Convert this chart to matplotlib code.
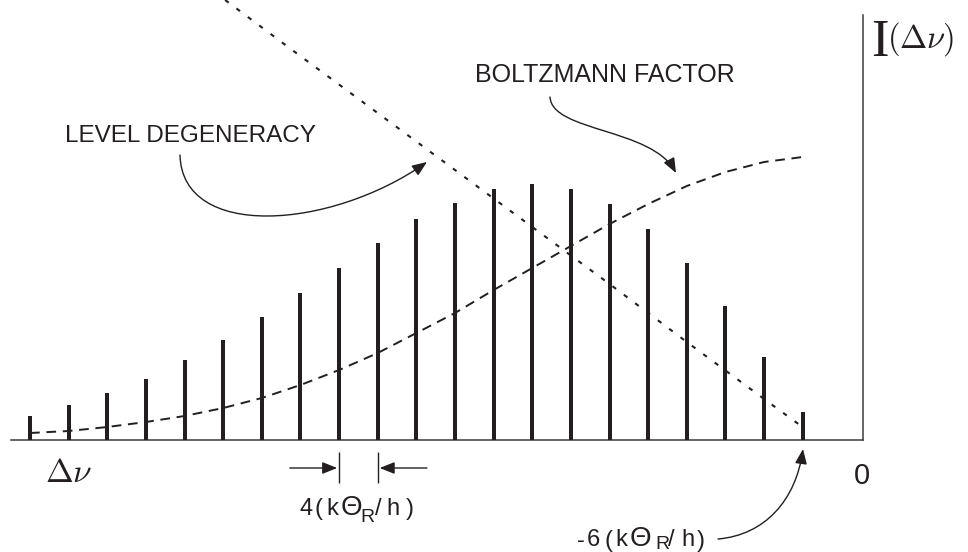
import matplotlib
matplotlib.use("Agg")
import matplotlib.pyplot as plt
from matplotlib.path import Path
from matplotlib.patches import FancyArrowPatch

plt.rcParams['lines.scale_dashes'] = False
plt.rcParams['mathtext.fontset'] = 'cm'

# ---- data (shift in units of k*Theta_R/h, intensities in arbitrary units) ----
shift = [-86, -82, -78, -74, -70, -66, -62, -58, -54, -50, -46,
         -42, -38, -34, -30, -26, -22, -18, -14, -10, -6]
intensity = [24, 35, 47, 61, 80, 100, 123, 147, 172, 197, 221,
             237, 251, 256, 251, 236, 211, 177, 134, 83, 28]
boltzmann = [7, 9, 13, 18, 24, 32, 42, 55, 70, 87, 107,
             127, 150, 172, 194, 216, 236, 254, 268, 278, 283]
degeneracy_x = [-65.8, -59, -42, -34, -26, -18, -10, -6.3]
degeneracy_y = [440, 391, 270, 213, 156, 98, 41, 15]

INK = '#231f20'
W, H = 968, 552

fig = plt.figure(figsize=(W / 100, H / 100), dpi=100)
fig.patch.set_facecolor('white')
ax = fig.add_axes([11 / W, 112 / H, (862.5 - 11) / W, 425 / H])
ax.set_xlim(-87.97, 0.19)
ax.set_ylim(0, 425)
ax.set_facecolor('none')
for s in ('top', 'left'):
    ax.spines[s].set_visible(False)
for s in ('bottom', 'right'):
    ax.spines[s].set_color('#3a3a3a')
    ax.spines[s].set_linewidth(1.1)
ax.set_xticks([])
ax.set_yticks([])

# bars
ax.bar(shift, intensity, width=0.42, color=INK, zorder=3)

# Boltzmann factor (dashed)
lb, = ax.plot(shift, boltzmann, color=INK, lw=1.4, clip_on=False, zorder=4)
lb.set_dashes([7.0, 4.8])

# level degeneracy (dotted)
ld, = ax.plot(degeneracy_x, degeneracy_y, color=INK, lw=1.5, clip_on=False, zorder=4)
ld.set_dashes([3.2, 7.0])


def ftext(xp, yp, s, **kw):
    fig.text(xp / W, 1 - yp / H, s, va='baseline', ha='left', color=INK, **kw)


def fx(p):
    return (p[0] / W, 1 - p[1] / H)


def curve_arrow(pts):
    verts = [fx(p) for p in pts]
    path = Path(verts, [Path.MOVETO, Path.CURVE4, Path.CURVE4, Path.CURVE4])
    a = FancyArrowPatch(path=path, arrowstyle='-|>,head_length=0.6,head_width=0.24',
                        mutation_scale=15, lw=1.0, color=INK,
                        transform=fig.transFigure)
    fig.add_artist(a)


SANS = 'Liberation Sans'
SERIF = 'Liberation Serif'

# labels
ftext(65, 141.5, 'LEVEL DEGENERACY', fontsize=17.5, family=SANS)
ftext(475, 81.5, 'BOLTZMANN FACTOR', fontsize=18, family=SANS)
ftext(45, 482, r'$\Delta\nu$', fontsize=24)
ftext(854, 484, '0', fontsize=21, family=SANS)
ftext(871, 56, 'I', fontsize=38, family=SERIF)
ftext(887, 48, r'$(\Delta\nu)$', fontsize=23.5)

# 4(kΘR/h)
for xp, yp, ch, fs in [(299, 515, '4', 17), (315, 515, '(', 17), (326, 515, 'k', 17),
                       (341, 515, '\u0398', 20), (360, 522, 'R', 14), (375, 515, '/', 17),
                       (386, 515, 'h', 17), (406, 515, ')', 17)]:
    ftext(xp, yp, ch, fontsize=fs, family=SANS)

# -6(kΘR/h)
for xp, yp, ch, fs in [(577, 546.5, '-', 17), (587, 546.5, '6', 17), (604, 546.5, '(', 17),
                       (615, 546.5, 'k', 17), (630, 546.5, '\u0398', 20), (655, 549, 'R', 14),
                       (668, 546.5, '/', 17), (681, 546.5, 'h', 17), (697, 546.5, ')', 17)]:
    ftext(xp, yp, ch, fontsize=fs, family=SANS)

# spacing marks
ax.vlines([shift[8], shift[9]], -43, -12, color=INK, lw=1.0, clip_on=False)
arrow_kw = dict(arrowstyle='-|>,head_length=0.6,head_width=0.24', mutation_scale=15,
                lw=1.0, color=INK, shrinkA=0, shrinkB=0)
ax.annotate('', xy=(shift[8] - 0.2, -28), xytext=(shift[8] - 5.1, -28),
            arrowprops=arrow_kw, annotation_clip=False)
ax.annotate('', xy=(shift[9] + 0.2, -28), xytext=(shift[9] + 5.1, -28),
            arrowprops=arrow_kw, annotation_clip=False)

# curved pointer arrows (pixel coordinates of the picture)
curve_arrow([(180, 155), (182, 240), (330, 230), (427, 162)])
curve_arrow([(550, 97), (552, 132), (652, 128), (676, 173)])
curve_arrow([(718, 539), (765, 535), (796, 500), (803, 449)])

fig.savefig('out.png', dpi=100, facecolor='white')
